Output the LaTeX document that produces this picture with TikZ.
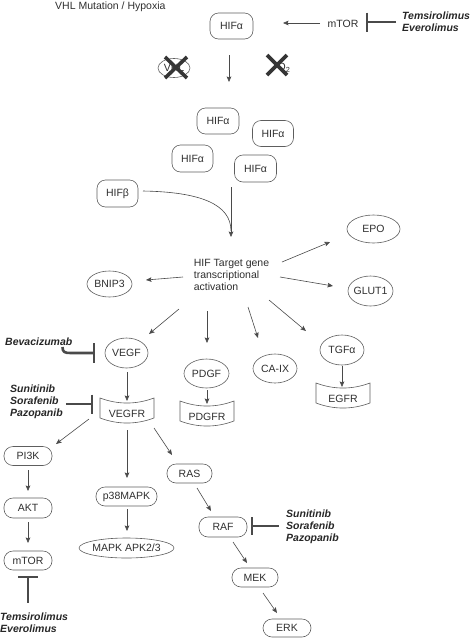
\documentclass[tikz,border=0pt]{standalone}
\usepackage{fontspec}
\setmainfont{Liberation Sans}
\usetikzlibrary{arrows.meta,shapes.geometric,calc}
\definecolor{txtc}{HTML}{2E2E2E}
\definecolor{linec}{HTML}{4A4A4A}
\definecolor{boxc}{HTML}{5E5E5E}
\definecolor{drugc}{HTML}{262626}
\definecolor{inhc}{HTML}{4A4A4A}
\definecolor{xc}{HTML}{353535}
\newcommand\dfs{\fontsize{10.5}{12}\selectfont}
\newcommand\rcpt[1]{\draw[boxc, line width=0.6pt] ($(#1)+(-27,-16)$) .. controls ($(#1)+(-9,-9.3)$) and ($(#1)+(9,-9.3)$) .. ($(#1)+(27,-16)$) -- ($(#1)+(27,4)$) .. controls ($(#1)+(9,10.7)$) and ($(#1)+(-9,10.7)$) .. ($(#1)+(-27,4)$) -- cycle;}
\tikzset{
  base/.style={text=txtc, inner sep=0pt, font=\dfs},
  rbox/.style 2 args={base, draw=boxc, line width=0.6pt, rounded corners=8.5pt, minimum width=#1, minimum height=#2},
  pill/.style 2 args={base, draw=boxc, line width=0.6pt, rounded corners=9pt, minimum width=#1, minimum height=#2},
  ell/.style 2 args={base, draw=boxc, line width=0.6pt, ellipse, minimum width=#1, minimum height=#2,
     execute at begin node={\hbox to 0pt\bgroup\hss}, execute at end node={\hss\egroup}},
  drug/.style={text=drugc, inner sep=0pt, font=\dfs\bfseries\itshape, align=left},
  arr/.style={draw=linec, line width=0.6pt, -{Stealth[length=5.5pt,width=4.6pt,inset=1pt]}},
  plain/.style={draw=linec, line width=0.6pt},
  inh/.style={draw=inhc, line width=2.6pt},
  xmark/.style={draw=xc, line width=3.6pt},
}
\begin{document}
\begin{tikzpicture}[x=1pt,y=-1pt]
\useasboundingbox (0,0) rectangle (470,638);
% ---------- top ----------
\node[base, anchor=base west] (title) at (55,9) {VHL Mutation / Hypoxia};
\node[rbox={43pt}{26pt}] (hifa) at (231.5,26) {HIFα};
\node[base] (mtortop) at (343,24) {mTOR};
\node[drug, anchor=west] (drug1) at (402,22) {Temsirolimus\\Everolimus};
\node[ell={32pt}{19pt}] (vhl) at (174,68) {VHL};
\node[base] (o2) at (284,68) {O\textsubscript{2}};
% HIF alpha cluster
\node[rbox={42pt}{26pt}] (a1) at (218,121) {HIFα};
\node[rbox={41pt}{26pt}] (a2) at (273,133.5) {HIFα};
\node[rbox={41pt}{27pt}] (a3) at (192.5,158.5) {HIFα};
\node[rbox={42pt}{27pt}] (a4) at (255.5,168.5) {HIFα};
\node[rbox={41pt}{27pt}] (hifb) at (117.5,193.5) {HIFβ};
\node[base, align=left] (htg) at (231.5,275) {HIF Target gene\\transcriptional\\activation};
% targets
\node[ell={53pt}{28pt}] (epo) at (373.5,229) {EPO};
\node[ell={45pt}{30pt}] (glut1) at (370.5,291) {GLUT1};
\node[ell={45pt}{26pt}] (bnip3) at (109.5,284) {BNIP3};
\node[ell={43pt}{30pt}] (vegf) at (126.5,353) {VEGF};
\node[ell={45pt}{29pt}] (pdgf) at (206.5,373.5) {PDGF};
\node[ell={44pt}{29pt}] (caix) at (275,368.5) {CA-IX};
\node[ell={44pt}{30pt}] (tgfa) at (342,350) {TGFα};
% receptors
\node[base] (vegfr) at (127,414) {VEGFR};
\node[base] (pdgfr) at (207,417) {PDGFR};
\node[base] (egfr) at (343,399) {EGFR};
\rcpt{vegfr}
\rcpt{pdgfr}
\rcpt{egfr}
% pathways
\node[pill={48pt}{19pt}] (pi3k) at (28,456) {PI3K};
\node[pill={48pt}{20pt}] (akt) at (28,508) {AKT};
\node[pill={48pt}{19pt}] (mtor) at (28,560.5) {mTOR};
\node[pill={61pt}{19pt}] (p38) at (126.5,496.5) {p38MAPK};
\node[ell={95pt}{20pt}] (mapk) at (126.5,548) {MAPK APK2/3};
\node[pill={45pt}{19pt}] (ras) at (189.5,473.5) {RAS};
\node[pill={48pt}{20pt}] (raf) at (223,527) {RAF};
\node[pill={46pt}{19pt}] (mek) at (255,577.5) {MEK};
\node[pill={48pt}{18pt}] (erk) at (287,628) {ERK};
% drugs
\node[drug, anchor=west] (drug2) at (5,342) {Bevacizumab};
\node[drug, anchor=west] (drug3) at (10,402) {Sunitinib\\Sorafenib\\Pazopanib};
\node[drug, anchor=west] (drug4) at (0,623) {Temsirolimus\\Everolimus};
\node[drug, anchor=west] (drug5) at (286,527) {Sunitinib\\Sorafenib\\Pazopanib};

% ---------- X marks ----------
\draw[xmark] ($(vhl)+(-9,-11)$) -- ($(vhl)+(13,10)$);
\draw[xmark] ($(vhl)+(13,-11)$) -- ($(vhl)+(-9,10)$);
\draw[xmark] ($(o2)+(-17,-13)$) -- ($(o2)+(3,7)$);
\draw[xmark] ($(o2)+(3,-13)$) -- ($(o2)+(-17,7)$);

% ---------- connectors ----------
\draw[arr] ($(mtortop)+(-23,-1)$) -- ($(hifa)+(51.5,-3)$);
\coordinate (tb) at ($(mtortop)+(24,-2)$);
\draw[inh] ($(drug1.west)+(-6,0)$) -- (tb);
\draw[inh] ($(tb)+(0,-9.5)$) -- ($(tb)+(0,9.5)$);

\coordinate (hdown) at ($(hifa)+(-2.5,56)$);
\draw[arr] ($(hifa)+(-2.5,29)$) -- (hdown);

\coordinate (vtop) at ($(htg)+(-0.5,-88)$);
\coordinate (merge) at ($(htg)+(-0.5,-38)$);
\draw[arr] (vtop) -- (merge);
\draw[plain] ($(hifb)+(25.5,-2.5)$) .. controls ($(merge)+(-31,-45)$) and ($(merge)+(0,-33)$) .. ($(merge)+(0,-6)$);

\draw[arr] ($(htg)+(50.5,-13)$) -- ($(epo)+(-43.5,13)$);
\draw[arr] ($(htg)+(-48.5,2)$) -- ($(bnip3)+(36.5,-4)$);
\draw[arr] ($(htg)+(48.5,2)$) -- ($(glut1)+(-37.5,-5)$);
\draw[arr] ($(htg)+(-52.5,34)$) -- ($(vegf)+(22.5,-19)$);
\draw[arr] ($(htg)+(-24.5,36)$) -- ($(pdgf)+(0.5,-30.5)$);
\draw[arr] ($(htg)+(16.5,32)$) -- ($(caix)+(-17,-30.5)$);
\draw[arr] ($(htg)+(37.5,25)$) -- ($(tgfa)+(-36,-19)$);

\draw[arr] ($(vegf)+(0.5,19)$) -- ($(vegfr)+(0,-13)$);
\draw[arr] ($(pdgf)+(0.5,16.5)$) -- ($(pdgfr)+(0,-13)$);
\draw[arr] ($(tgfa)+(0,16)$) -- ($(egfr)+(-1,-12)$);

\coordinate (bvb) at ($(vegf)+(-32.5,0)$);
\draw[inh] ($(drug2.east)+(-10,5)$) .. controls ($(drug2.east)+(-10,10)$) and ($(drug2.east)+(-8,11)$) .. ($(drug2.east)+(-2,11)$) -- (bvb);
\draw[inh] ($(bvb)+(0,-10)$) -- ($(bvb)+(0,9.5)$);

\coordinate (sb) at ($(vegfr)+(-35,-10)$);
\draw[inh] ($(drug3.east)+(3,2)$) -- (sb);
\draw[inh] ($(sb)+(0,-9.5)$) -- ($(sb)+(0,9.5)$);

\draw[arr] ($(vegfr)+(-38,5)$) -- ($(pi3k)+(28,-12)$);
\draw[arr] ($(vegfr)+(0,16)$) -- ($(p38)+(0.5,-18.5)$);
\draw[arr] ($(vegfr)+(27,14)$) -- ($(ras)+(-17.5,-18.5)$);

\draw[arr] ($(pi3k)+(0,14)$) -- ($(akt)+(0,-17)$);
\draw[arr] ($(akt)+(0,14)$) -- ($(mtor)+(0,-17.5)$);
\coordinate (mb) at ($(mtor)+(0,16.5)$);
\draw[inh] (mb) -- ($(mb)+(0,26)$);
\draw[inh] ($(mb)+(-10,0)$) -- ($(mb)+(9.5,0)$);

\draw[arr] ($(p38)+(0.5,12.5)$) -- ($(mapk)+(0.5,-17)$);

\draw[arr] ($(ras)+(7.5,14.5)$) -- ($(raf)+(-12,-16)$);
\coordinate (rb) at ($(raf)+(29,-1)$);
\draw[inh] (rb) -- ($(drug5.west)+(-7,-1)$);
\draw[inh] ($(rb)+(0,-9)$) -- ($(rb)+(0,9)$);
\draw[arr] ($(raf)+(10,15)$) -- ($(mek)+(-8,-14.5)$);
\draw[arr] ($(mek)+(8,15.5)$) -- ($(erk)+(-10,-15)$);
\end{tikzpicture}
\end{document}
